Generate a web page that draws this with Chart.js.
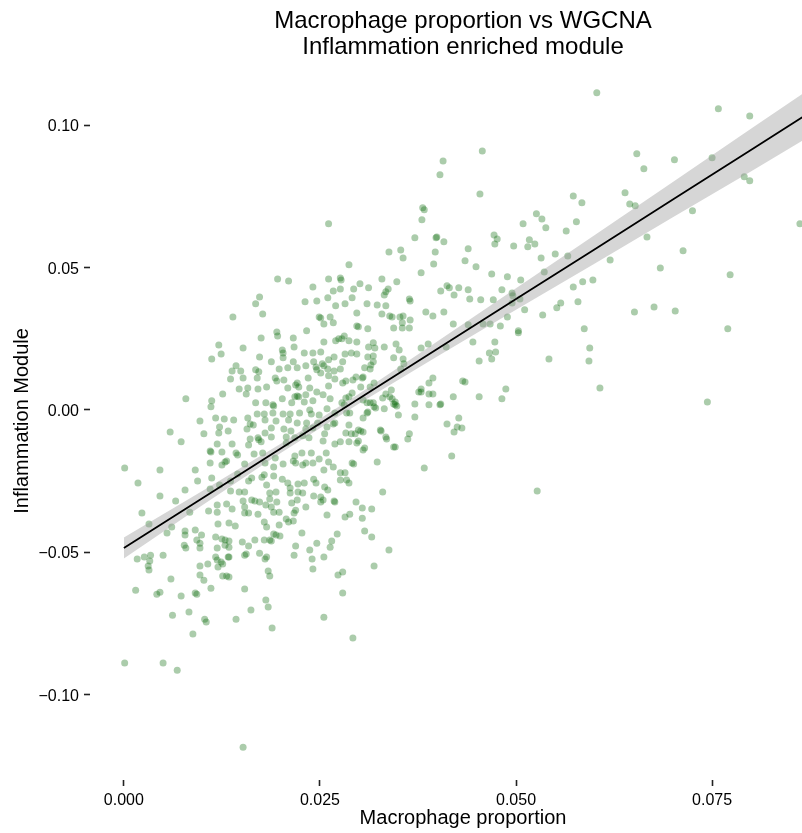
<!DOCTYPE html>
<html lang="en">
<head>
<meta charset="UTF-8">
<title>Macrophage proportion vs WGCNA</title>
<script src="https://cdn.jsdelivr.net/npm/chart.js"></script>
<style>
  html, body { margin: 0; padding: 0; background: #fff; overflow: hidden; }
  #wrap { width: 802px; height: 833px; overflow: hidden; }
</style>
</head>
<body>
<div id="wrap"><canvas id="scatterChart" width="926" height="833"></canvas></div>
<script>
// one entry per sample: macrophage proportion (x) and module eigengene (y)
const macrophageProportion = [
  0.0457, 0.0261, 0.0196, 0.0210, 0.0261, 0.0241, 0.0173, 0.0168, 0.0231, 0.0246,
  0.0260, 0.0177, 0.0139, 0.0249, 0.0251, 0.0233, 0.0255, 0.0195, 0.0196, 0.0175,
  0.0216, 0.0255, 0.0121, 0.0152, 0.0202, 0.0203, 0.0217, 0.0124, 0.0112, 0.0173,
  0.0203, 0.0216, 0.0230, 0.0241, 0.0251, 0.0261, 0.0188, 0.0242, 0.0253, 0.0143,
  0.0138, 0.0149, 0.0168, 0.0172, 0.0198, 0.0209, 0.0221, 0.0232, 0.0245, 0.0246,
  0.0255, 0.0260, 0.0136, 0.0152, 0.0170, 0.0193, 0.0195, 0.0204, 0.0221, 0.0219,
  0.0235, 0.0251, 0.0261, 0.0147, 0.0158, 0.0171, 0.0182, 0.0209, 0.0223, 0.0237,
  0.0246, 0.0261, 0.0126, 0.0156, 0.0202, 0.0218, 0.0221, 0.0223, 0.0232, 0.0254,
  0.0079, 0.0112, 0.0111, 0.0168, 0.0181, 0.0190, 0.0191, 0.0214, 0.0230, 0.0241,
  0.0117, 0.0128, 0.0140, 0.0097, 0.0158, 0.0161, 0.0157, 0.0165, 0.0170, 0.0179,
  0.0190, 0.0203, 0.0212, 0.0224, 0.0237, 0.0239, 0.0249, 0.0259, 0.0180, 0.0194,
  0.0210, 0.0221, 0.0233, 0.0247, 0.0122, 0.0133, 0.0188, 0.0204, 0.0213, 0.0232,
  0.0241, 0.0259, 0.0059, 0.0102, 0.0121, 0.0180, 0.0188, 0.0171, 0.0161, 0.0207,
  0.0218, 0.0228, 0.0256, 0.0073, 0.0119, 0.0138, 0.0159, 0.0172, 0.0175, 0.0207,
  0.0236, 0.0254, 0.0110, 0.0111, 0.0125, 0.0143, 0.0145, 0.0166, 0.0177, 0.0193,
  0.0218, 0.0227, 0.0239, 0.0258, 0.0110, 0.0125, 0.0129, 0.0131, 0.0154, 0.0180,
  0.0191, 0.0203, 0.0216, 0.0219, 0.0228, 0.0232, 0.0241, 0.0249, 0.0261, 0.0001,
  0.0046, 0.0091, 0.0145, 0.0255, 0.0018, 0.0046, 0.0078, 0.0094, 0.0112, 0.0110,
  0.0122, 0.0136, 0.0136, 0.0147, 0.0154, 0.0159, 0.0163, 0.0176, 0.0179, 0.0182,
  0.0186, 0.0194, 0.0191, 0.0202, 0.0209, 0.0212, 0.0212, 0.0222, 0.0222, 0.0230,
  0.0228, 0.0242, 0.0245, 0.0256, 0.0242, 0.0251, 0.0260, 0.0023, 0.0032, 0.0066,
  0.0061, 0.0055, 0.0084, 0.0078, 0.0078, 0.0091, 0.0099, 0.0108, 0.0119, 0.0119,
  0.0131, 0.0138, 0.0134, 0.0142, 0.0120, 0.0152, 0.0154, 0.0154, 0.0159, 0.0163,
  0.0167, 0.0171, 0.0173, 0.0181, 0.0188, 0.0179, 0.0182, 0.0191, 0.0198, 0.0186,
  0.0195, 0.0198, 0.0207, 0.0210, 0.0216, 0.0217, 0.0219, 0.0214, 0.0221, 0.0232,
  0.0251, 0.0254, 0.0259, 0.0227, 0.0191, 0.0077, 0.0079, 0.0093, 0.0097, 0.0097,
  0.0117, 0.0119, 0.0125, 0.0129, 0.0134, 0.0129, 0.0134, 0.0151, 0.0156, 0.0154,
  0.0159, 0.0167, 0.0173, 0.0179, 0.0186, 0.0188, 0.0194, 0.0199, 0.0219, 0.0217,
  0.0237, 0.0246, 0.0017, 0.0026, 0.0034, 0.0033, 0.0031, 0.0032, 0.0050, 0.0060,
  0.0015, 0.0042, 0.0046, 0.0073, 0.0091, 0.0093, 0.0097, 0.0097, 0.0102, 0.0107,
  0.0111, 0.0117, 0.0119, 0.0120, 0.0124, 0.0126, 0.0133, 0.0134, 0.0126, 0.0131,
  0.0134, 0.0154, 0.0180, 0.0182, 0.0184, 0.0186, 0.0181, 0.0184, 0.0162, 0.0143,
  0.0103, 0.0105, 0.0083, 0.0062, 0.0088, 0.0189, 0.0240, 0.0241, 0.0255, 0.0255,
  0.0001, 0.0050, 0.0068, 0.0152, 0.0279, 0.0292, 0.0407, 0.0403, 0.0454, 0.0381,
  0.0383, 0.0380, 0.0526, 0.0509, 0.0533, 0.0538, 0.0472, 0.0476, 0.0473, 0.0497,
  0.0371, 0.0398, 0.0399, 0.0408, 0.0517, 0.0515, 0.0524, 0.0338, 0.0353, 0.0356,
  0.0397, 0.0395, 0.0439, 0.0435, 0.0449, 0.0532, 0.0287, 0.0379, 0.0469, 0.0489,
  0.0506, 0.0536, 0.0276, 0.0277, 0.0293, 0.0301, 0.0312, 0.0329, 0.0348, 0.0276,
  0.0267, 0.0282, 0.0291, 0.0270, 0.0263, 0.0267, 0.0297, 0.0310, 0.0323, 0.0329,
  0.0332, 0.0334, 0.0337, 0.0334, 0.0364, 0.0365, 0.0342, 0.0339, 0.0344, 0.0352,
  0.0356, 0.0355, 0.0355, 0.0364, 0.0365, 0.0385, 0.0394, 0.0408, 0.0404, 0.0412,
  0.0415, 0.0421, 0.0427, 0.0439, 0.0441, 0.0455, 0.0471, 0.0482, 0.0495, 0.0496,
  0.0505, 0.0511, 0.0495, 0.0489, 0.0534, 0.0420, 0.0439, 0.0458, 0.0467, 0.0480,
  0.0503, 0.0503, 0.0445, 0.0473, 0.0474, 0.0466, 0.0469, 0.0453, 0.0542, 0.0297,
  0.0299, 0.0311, 0.0281, 0.0270, 0.0274, 0.0278, 0.0287, 0.0297, 0.0312, 0.0318,
  0.0320, 0.0332, 0.0347, 0.0351, 0.0379, 0.0388, 0.0411, 0.0282, 0.0290, 0.0297,
  0.0268, 0.0279, 0.0311, 0.0318, 0.0318, 0.0315, 0.0314, 0.0307, 0.0305, 0.0304,
  0.0296, 0.0292, 0.0283, 0.0279, 0.0268, 0.0276, 0.0269, 0.0344, 0.0356, 0.0357,
  0.0353, 0.0389, 0.0394, 0.0379, 0.0432, 0.0435, 0.0487, 0.0319, 0.0314, 0.0302,
  0.0263, 0.0278, 0.0281, 0.0291, 0.0287, 0.0283, 0.0305, 0.0310, 0.0314, 0.0269,
  0.0269, 0.0267, 0.0284, 0.0288, 0.0305, 0.0310, 0.0311, 0.0318, 0.0321, 0.0319,
  0.0332, 0.0330, 0.0334, 0.0342, 0.0346, 0.0348, 0.0350, 0.0341, 0.0339, 0.0344,
  0.0346, 0.0287, 0.0283, 0.0290, 0.0295, 0.0299, 0.0302, 0.0305, 0.0327, 0.0328,
  0.0334, 0.0335, 0.0364, 0.0362, 0.0287, 0.0276, 0.0269, 0.0299, 0.0297, 0.0307,
  0.0305, 0.0344, 0.0346, 0.0371, 0.0371, 0.0389, 0.0376, 0.0379, 0.0389, 0.0394,
  0.0403, 0.0404, 0.0420, 0.0453, 0.0482, 0.0412, 0.0427, 0.0421, 0.0425, 0.0431,
  0.0418, 0.0383, 0.0291, 0.0293, 0.0323, 0.0267, 0.0276, 0.0282, 0.0276, 0.0284,
  0.0287, 0.0330, 0.0268, 0.0269, 0.0296, 0.0304, 0.0316, 0.0288, 0.0282, 0.0304,
  0.0307, 0.0316, 0.0272, 0.0265, 0.0263, 0.0338, 0.0319, 0.0279, 0.0273, 0.0527,
  0.0603, 0.0758, 0.0798, 0.0654, 0.0663, 0.0702, 0.0750, 0.0791, 0.0798, 0.0573,
  0.0584, 0.0639, 0.0645, 0.0652, 0.0577, 0.0564, 0.0725, 0.0862, 0.0667, 0.0550,
  0.0566, 0.0620, 0.0713, 0.0684, 0.0773, 0.0573, 0.0585, 0.0598, 0.0579, 0.0557,
  0.0552, 0.0651, 0.0676, 0.0703, 0.0587, 0.0770, 0.0594, 0.0593, 0.0607, 0.0744
];
const inflammationModule = [
  0.0910, 0.0654, 0.0460, 0.0453, 0.0460, 0.0432, 0.0397, 0.0373, 0.0380, 0.0383,
  0.0394, 0.0337, 0.0327, 0.0327, 0.0323, 0.0278, 0.0302, 0.0274, 0.0260, 0.0253,
  0.0253, 0.0239, 0.0228, 0.0218, 0.0211, 0.0200, 0.0221, 0.0197, 0.0179, 0.0186,
  0.0183, 0.0169, 0.0200, 0.0200, 0.0204, 0.0176, 0.0169, 0.0169, 0.0162, 0.0155,
  0.0137, 0.0137, 0.0141, 0.0134, 0.0144, 0.0148, 0.0148, 0.0155, 0.0151, 0.0141,
  0.0155, 0.0144, 0.0109, 0.0112, 0.0112, 0.0112, 0.0102, 0.0105, 0.0095, 0.0088,
  0.0112, 0.0130, 0.0120, 0.0074, 0.0077, 0.0074, 0.0081, 0.0077, 0.0081, 0.0077,
  0.0063, 0.0084, 0.0056, 0.0056, 0.0039, 0.0046, 0.0049, 0.0046, 0.0053, 0.0053,
  0.0039, 0.0032, 0.0011, 0.0025, 0.0025, 0.0018, 0.0014, 0.0025, 0.0028, 0.0032,
  -0.0028, -0.0032, -0.0035, -0.0039, -0.0028, -0.0049, -0.0067, -0.0053, -0.0014, -0.0014,
  -0.0011, -0.0014, -0.0014, -0.0011, 0.0000, -0.0014, -0.0018, 0.0004, -0.0035, -0.0039,
  -0.0035, -0.0046, -0.0046, -0.0046, -0.0060, -0.0074, -0.0063, -0.0067, -0.0074, -0.0067,
  -0.0063, -0.0060, -0.0077, -0.0084, -0.0081, -0.0081, -0.0095, -0.0098, -0.0102, -0.0095,
  -0.0098, -0.0091, -0.0084, -0.0112, -0.0120, -0.0120, -0.0123, -0.0105, -0.0112, -0.0116,
  -0.0098, -0.0109, -0.0144, -0.0148, -0.0148, -0.0151, -0.0158, -0.0155, -0.0151, -0.0169,
  -0.0162, -0.0151, -0.0151, -0.0151, -0.0186, -0.0193, -0.0183, -0.0179, -0.0190, -0.0186,
  -0.0200, -0.0190, -0.0179, -0.0186, -0.0193, -0.0186, -0.0186, -0.0172, -0.0183, -0.0204,
  -0.0211, -0.0211, -0.0225, -0.0211, -0.0257, -0.0302, -0.0281, -0.0250, -0.0239, -0.0278,
  -0.0264, -0.0250, -0.0285, -0.0288, -0.0288, -0.0250, -0.0239, -0.0236, -0.0228, -0.0264,
  -0.0292, -0.0288, -0.0232, -0.0243, -0.0257, -0.0292, -0.0274, -0.0260, -0.0288, -0.0257,
  -0.0292, -0.0243, -0.0257, -0.0271, -0.0302, -0.0306, -0.0281, -0.0362, -0.0401, -0.0320,
  -0.0411, -0.0432, -0.0359, -0.0425, -0.0439, -0.0422, -0.0439, -0.0355, -0.0359, -0.0334,
  -0.0330, -0.0348, -0.0397, -0.0408, -0.0401, -0.0320, -0.0341, -0.0362, -0.0362, -0.0316,
  -0.0320, -0.0366, -0.0323, -0.0334, -0.0341, -0.0394, -0.0411, -0.0359, -0.0359, -0.0313,
  -0.0323, -0.0404, -0.0383, -0.0394, -0.0390, -0.0362, -0.0352, -0.0327, -0.0316, -0.0341,
  -0.0323, -0.0316, -0.0369, -0.0432, -0.0436, -0.0475, -0.0485, -0.0457, -0.0468, -0.0485,
  -0.0446, -0.0485, -0.0453, -0.0457, -0.0460, -0.0475, -0.0482, -0.0464, -0.0506, -0.0510,
  -0.0478, -0.0457, -0.0503, -0.0457, -0.0457, -0.0460, -0.0439, -0.0443, -0.0478, -0.0510,
  -0.0492, -0.0468, -0.0524, -0.0517, -0.0510, -0.0531, -0.0548, -0.0562, -0.0510, -0.0594,
  -0.0633, -0.0647, -0.0640, -0.0654, -0.0643, -0.0647, -0.0548, -0.0580, -0.0598, -0.0541,
  -0.0626, -0.0517, -0.0527, -0.0552, -0.0534, -0.0541, -0.0517, -0.0517, -0.0583, -0.0583,
  -0.0587, -0.0629, -0.0524, -0.0517, -0.0566, -0.0583, -0.0668, -0.0692, -0.0703, -0.0735,
  -0.0735, -0.0745, -0.0710, -0.0721, -0.0787, -0.0766, -0.0524, -0.0559, -0.0517, -0.0728,
  -0.0889, -0.0889, -0.0914, -0.1185, -0.0643, -0.0801, 0.0875, 0.0826, 0.0759, 0.0710,
  0.0703, 0.0668, 0.0689, 0.0654, 0.0671, 0.0640, 0.0615, 0.0601, 0.0583, 0.0576,
  0.0605, 0.0605, 0.0608, 0.0591, 0.0598, 0.0573, 0.0583, 0.0555, 0.0562, 0.0534,
  0.0555, 0.0513, 0.0566, 0.0524, 0.0503, 0.0534, 0.0510, 0.0482, 0.0478, 0.0468,
  0.0457, 0.0485, 0.0464, 0.0457, 0.0425, 0.0443, 0.0429, 0.0460, 0.0450, 0.0425,
  0.0418, 0.0373, 0.0394, 0.0366, 0.0327, 0.0306, 0.0341, 0.0373, 0.0369, 0.0337,
  0.0404, 0.0415, 0.0425, 0.0366, 0.0390, 0.0383, 0.0327, 0.0330, 0.0288, 0.0327,
  0.0330, 0.0306, 0.0288, 0.0288, 0.0316, 0.0344, 0.0330, 0.0344, 0.0418, 0.0436,
  0.0429, 0.0404, 0.0429, 0.0422, 0.0390, 0.0387, 0.0387, 0.0422, 0.0411, 0.0401,
  0.0390, 0.0352, 0.0376, 0.0327, 0.0334, 0.0302, 0.0299, 0.0302, 0.0302, 0.0295,
  0.0271, 0.0278, 0.0239, 0.0239, 0.0204, 0.0200, 0.0179, 0.0172, 0.0179, 0.0295,
  0.0292, 0.0285, 0.0260, 0.0243, 0.0250, 0.0250, 0.0243, 0.0239, 0.0221, 0.0236,
  0.0218, 0.0221, 0.0232, 0.0211, 0.0218, 0.0232, 0.0221, 0.0197, 0.0200, 0.0197,
  0.0186, 0.0169, 0.0186, 0.0190, 0.0169, 0.0158, 0.0144, 0.0148, 0.0116, 0.0112,
  0.0116, 0.0105, 0.0102, 0.0095, 0.0137, 0.0144, 0.0109, 0.0183, 0.0179, 0.0162,
  0.0144, 0.0095, 0.0112, 0.0074, 0.0102, 0.0098, 0.0074, 0.0095, 0.0081, 0.0081,
  0.0039, 0.0025, 0.0018, 0.0060, 0.0046, 0.0042, 0.0035, 0.0025, 0.0025, -0.0011,
  -0.0046, -0.0049, -0.0011, -0.0011, -0.0028, -0.0011, -0.0007, 0.0025, 0.0007, 0.0011,
  0.0004, 0.0042, 0.0056, 0.0039, 0.0028, 0.0014, -0.0018, 0.0070, 0.0046, 0.0021,
  0.0018, -0.0053, -0.0081, -0.0084, -0.0084, -0.0070, -0.0074, -0.0077, -0.0070, -0.0074,
  -0.0095, -0.0102, -0.0084, -0.0102, -0.0112, -0.0112, -0.0120, -0.0109, -0.0116, -0.0134,
  -0.0141, -0.0130, -0.0130, 0.0021, -0.0025, 0.0018, 0.0063, 0.0063, 0.0056, 0.0056,
  0.0018, 0.0021, 0.0046, 0.0046, 0.0039, -0.0049, -0.0028, -0.0077, -0.0060, -0.0063,
  -0.0162, -0.0204, -0.0186, -0.0190, -0.0183, -0.0200, -0.0221, -0.0221, -0.0246, -0.0246,
  -0.0257, -0.0288, -0.0320, -0.0323, -0.0323, -0.0344, -0.0348, -0.0366, -0.0376, -0.0380,
  -0.0425, -0.0446, -0.0436, -0.0460, -0.0482, -0.0492, -0.0548, -0.0569, -0.0580, -0.0285,
  0.1114, 0.1058, 0.1033, 0.0900, 0.0847, 0.0879, 0.0886, 0.0819, 0.0805, 0.0752,
  0.0728, 0.0763, 0.0724, 0.0717, 0.0661, 0.0629, 0.0700, 0.0654, 0.0608, 0.0548,
  0.0541, 0.0527, 0.0559, 0.0499, 0.0475, 0.0432, 0.0450, 0.0457, 0.0380, 0.0376,
  0.0359, 0.0344, 0.0362, 0.0348, 0.0285, 0.0285, 0.0218, 0.0172, 0.0077, 0.0028
];

// linear fit (geom_smooth, method = lm)
const fitX = [0, 0.01, 0.02, 0.03, 0.04, 0.05, 0.06, 0.07, 0.08, 0.0865];
const fitY = [-0.0485, -0.0310, -0.0135, 0.0040, 0.0215, 0.0390, 0.0564, 0.0739, 0.0914, 0.1028];
const ciHalfWidth = [0.0037, 0.0025, 0.0016, 0.0017, 0.0026, 0.0038, 0.0050, 0.0062, 0.0075, 0.0082];

const xTicks = [0, 0.025, 0.05, 0.075];
const yTicks = [-0.10, -0.05, 0, 0.05, 0.10];

const FONT = "'Liberation Sans', Arial, Helvetica, sans-serif";

const points = macrophageProportion.map((x, i) => ({ x: x, y: inflammationModule[i] }));
const bandLow = fitX.map((x, i) => ({ x: x, y: fitY[i] - ciHalfWidth[i] }));
const bandHigh = fitX.map((x, i) => ({ x: x, y: fitY[i] + ciHalfWidth[i] }));
const fitLine = fitX.map((x, i) => ({ x: x, y: fitY[i] }));

const ctx = document.getElementById('scatterChart').getContext('2d');
new Chart(ctx, {
  type: 'scatter',
  data: {
    datasets: [
      {
        label: 'samples',
        data: points,
        order: 4,
        pointRadius: 3.5,
        pointHoverRadius: 3.5,
        pointBorderWidth: 0,
        pointBackgroundColor: 'rgba(0, 100, 0, 0.33)'
      },
      {
        label: 'ci low',
        data: bandLow,
        order: 3,
        showLine: true,
        pointRadius: 0,
        borderWidth: 0,
        borderColor: 'rgba(0,0,0,0)',
        fill: false
      },
      {
        label: 'ci high',
        data: bandHigh,
        order: 2,
        showLine: true,
        pointRadius: 0,
        borderWidth: 0,
        borderColor: 'rgba(0,0,0,0)',
        backgroundColor: 'rgba(153, 153, 153, 0.4)',
        fill: '-1'
      },
      {
        label: 'fit',
        data: fitLine,
        order: 1,
        showLine: true,
        pointRadius: 0,
        borderColor: '#000',
        borderWidth: 1.8,
        fill: false
      }
    ]
  },
  options: {
    responsive: false,
    animation: false,
    devicePixelRatio: 1,
    events: [],
    plugins: {
      legend: { display: false },
      tooltip: { enabled: false },
      title: {
        display: true,
        text: ['Macrophage proportion vs WGCNA', 'Inflammation enriched module'],
        color: '#000',
        font: { family: FONT, size: 24, weight: 'normal', lineHeight: 1.08 },
        padding: { top: 8, bottom: 2 }
      }
    },
    scales: {
      x: {
        type: 'linear',
        min: -0.00432,
        max: 0.0908,
        afterBuildTicks: (scale) => { scale.ticks = xTicks.map(v => ({ value: v })); },
        afterFit: (scale) => { scale.height = 53; },
        border: { display: false },
        grid: { display: true, drawOnChartArea: false, drawTicks: true, tickLength: 6, tickWidth: 1.6, tickColor: '#222' },
        ticks: {
          autoSkip: false,
          maxRotation: 0,
          padding: 5,
          color: '#000',
          font: { family: FONT, size: 16 },
          callback: (v) => v.toFixed(3)
        },
        title: {
          display: true,
          text: 'Macrophage proportion',
          color: '#000',
          font: { family: FONT, size: 20 },
          padding: { top: 0, bottom: 3 }
        }
      },
      y: {
        type: 'linear',
        min: -0.1300,
        max: 0.1223,
        afterBuildTicks: (scale) => { scale.ticks = yTicks.map(v => ({ value: v })); },
        afterFit: (scale) => { scale.width = 90; },
        border: { display: false },
        grid: { display: true, drawOnChartArea: false, drawTicks: true, tickLength: 6, tickWidth: 1.6, tickColor: '#222' },
        ticks: {
          autoSkip: false,
          padding: 5,
          labelOffset: 1.5,
          color: '#000',
          font: { family: FONT, size: 16 },
          callback: (v) => (v < 0 ? '\u2212' : '') + Math.abs(v).toFixed(2)
        },
        title: {
          display: true,
          text: 'Inflammation Module',
          color: '#000',
          font: { family: FONT, size: 20 },
          padding: { top: 10, bottom: 0 }
        }
      },
      // empty right-hand strip so the panel and titles sit where the original does
      yRight: {
        type: 'linear',
        position: 'right',
        display: true,
        afterFit: (scale) => { scale.width = 90; },
        border: { display: false },
        grid: { display: false },
        ticks: { display: false }
      }
    }
  }
});
</script>
</body>
</html>
